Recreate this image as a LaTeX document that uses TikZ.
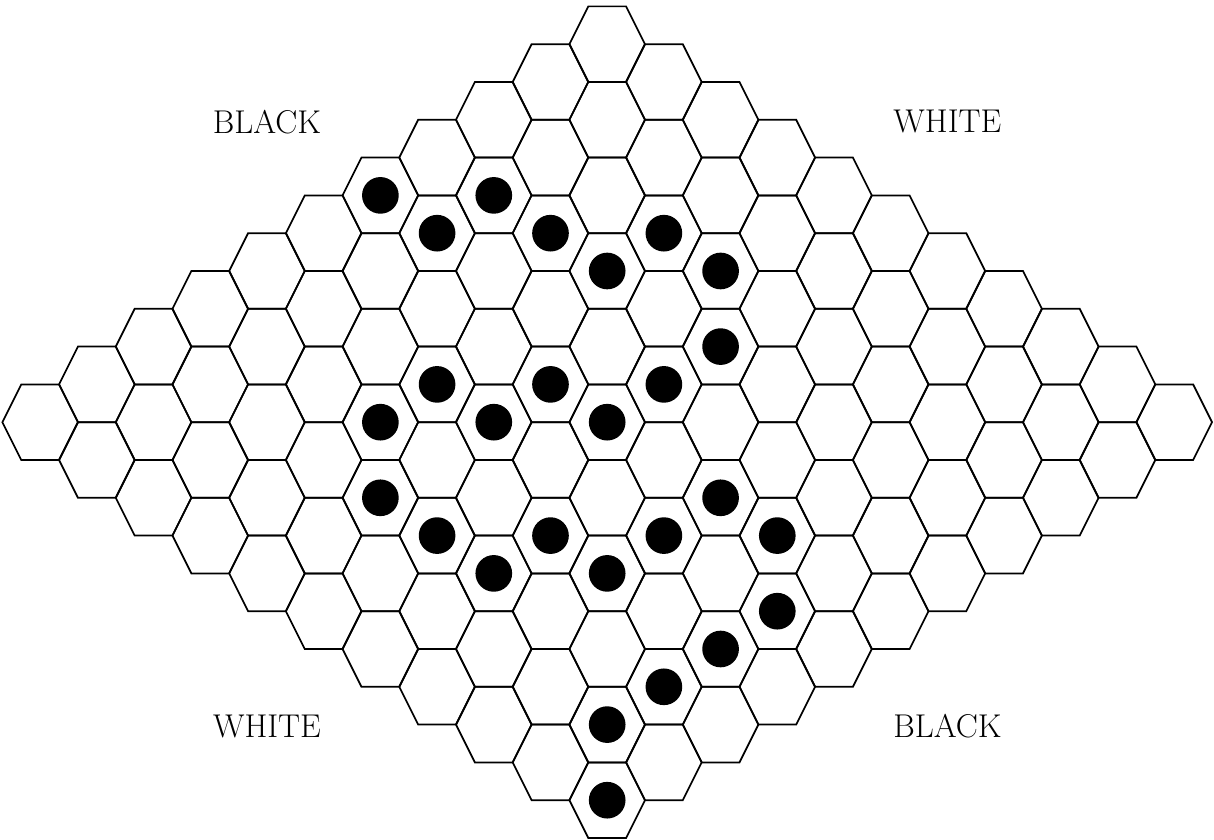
\documentclass[tikz,border=0pt]{standalone}
\usepackage{tikz}
\begin{document}
\begin{tikzpicture}[x=1cm,y=1cm,
  hexline/.style={draw=black,line width=1.3pt},
  stone/.style={fill=black},
  sidelabel/.style={inner sep=0pt,font=\fontsize{24.8}{30}\selectfont}]
\useasboundingbox (-16.063,-21.053) rectangle (16.053,1.169);
% board cells
\foreach \i in {0,...,10}{
  \foreach \j in {0,...,10}{
    \draw[hexline] ({1.5*(\j-\i)+1},{-(\i+\j)}) -- ++(-0.5,1) -- ++(-1,0)
      -- ++(-0.5,-1) -- ++(0.5,-1) -- ++(1,0) -- cycle;
  }
}
% stones
\foreach \i/\j in {4/0,3/1,4/1,3/2,2/3,3/3,2/4,3/5,6/3,5/4,4/5,7/3,6/4,5/5,
  5/7,8/4,8/5,7/6,6/7,5/8,8/6,7/7,6/9,7/9,8/9,9/9,10/10}{
  \fill[stone] ({1.5*(\j-\i)},{-(\i+\j)}) circle (0.485);
}
% labels
\node[sidelabel] (blackA) at (-9,-2.05) {BLACK};
\node[sidelabel] (whiteA) at (9,-2.05) {WHITE};
\node[sidelabel] (whiteB) at (-9,-18.05) {WHITE};
\node[sidelabel] (blackB) at (9,-18.05) {BLACK};
\end{tikzpicture}
\end{document}
